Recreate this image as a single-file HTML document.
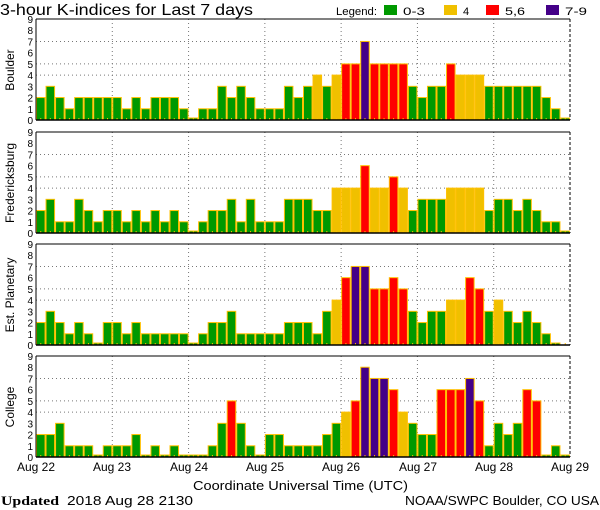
<!DOCTYPE html>
<html><head><meta charset="utf-8"><style>
body{margin:0;background:#fff;width:600px;height:510px;overflow:hidden}
svg{display:block;font-family:"Liberation Sans",sans-serif}
</style></head><body>
<svg id="s" width="600" height="510" xmlns="http://www.w3.org/2000/svg">
<text x="0" y="15" font-size="16" textLength="253" lengthAdjust="spacingAndGlyphs">3-hour K-indices for Last 7 days</text>
<text x="336" y="15" font-size="11" textLength="41" lengthAdjust="spacingAndGlyphs">Legend:</text>
<rect x="384" y="5" width="13" height="10" fill="#009900"/><text x="403" y="15" font-size="11" textLength="22" lengthAdjust="spacingAndGlyphs">0-3</text>
<rect x="444" y="5" width="13" height="10" fill="#f0c000"/><text x="463" y="15" font-size="11">4</text>
<rect x="486" y="5" width="13" height="10" fill="#ff0000"/><text x="505" y="15" font-size="11" textLength="20" lengthAdjust="spacingAndGlyphs">5,6</text>
<rect x="546" y="5" width="13" height="10" fill="#440088"/><text x="565" y="15" font-size="11" textLength="22" lengthAdjust="spacingAndGlyphs">7-9</text>
<g font-size="12" text-anchor="middle">
<text transform="translate(14,70) rotate(-90)">Boulder</text>
<text transform="translate(14,183) rotate(-90)">Fredericksburg</text>
<text transform="translate(14,295) rotate(-90)">Est. Planetary</text>
<text transform="translate(14,407) rotate(-90)">College</text>
</g>
<g font-size="12" text-anchor="middle">
<text x="36" y="471">Aug 22</text><text x="112" y="471">Aug 23</text><text x="189" y="471">Aug 24</text>
<text x="265" y="471">Aug 25</text><text x="341" y="471">Aug 26</text><text x="418" y="471">Aug 27</text>
<text x="494" y="471">Aug 28</text><text x="570" y="471">Aug 29</text>
</g>
<text x="193" y="490" font-size="13" textLength="215" lengthAdjust="spacingAndGlyphs">Coordinate Universal Time (UTC)</text>
<text x="1" y="505" font-size="13" font-family="Liberation Serif" font-weight="bold" textLength="58" lengthAdjust="spacingAndGlyphs">Updated</text>
<text x="67" y="505" font-size="13" textLength="126" lengthAdjust="spacingAndGlyphs">2018 Aug 28 2130</text>
<text x="405" y="505" font-size="13" textLength="194" lengthAdjust="spacingAndGlyphs">NOAA/SWPC Boulder, CO USA</text>
</svg>
<script>
var s=document.getElementById('s'),NS='http://www.w3.org/2000/svg';
function el(n,a){var e=document.createElementNS(NS,n);for(var k in a)e.setAttribute(k,a[k]);s.appendChild(e);return e;}
var data=[
[2,3,2,1,2,2,2,2,2,1,2,1,2,2,2,1,0,1,1,3,2,3,2,1,1,1,3,2, 3,4,3,4,5,5,7,5,5,5,5,3,2,3,3,5,4,4,4,3,3,3,3,3,3,2,1,0],
[2,3,1,1,3,2,1,2,2,1,2,1,2,1,2,1,0,1,2,2,3,1,3,1,1,1,3,3, 3,2,2,4,4,4,6,4,4,5,4,2,3,3,3,4,4,4,4,2,3,3,2,3,2,1,1,0],
[2,3,2,1,2,1,0,2,2,1,2,1,1,1,1,1,0,1,2,2,3,1,1,1,1,1,2,2, 2,1,3,4,6,7,7,5,5,6,5,3,2,3,3,4,4,6,5,3,4,3,2,3,2,1,0,null],
[2,2,3,1,1,1,0,1,1,1,2,0,1,0,1,0,0,0,1,3,5,3,1,0,2,2,1,1, 1,1,2,3,4,5,8,7,7,6,4,3,2,2,6,6,6,7,5,1,3,2,3,6,5,0,1,0]];
var tops=[19,132,244,356],L=36,R=570,bw=(R-L)/56;
function col(v){return v<=3?'#009900':v==4?'#f0c000':v<=6?'#ff0000':'#440088';}
data.forEach(function(d,p){
 var t=tops[p],h=101,b=t+h,u=h/9;
 [4,5,7].forEach(function(k){el('line',{x1:L,x2:R,y1:b-k*u,y2:b-k*u,stroke:'#777','stroke-dasharray':'1,3'});});
 for(var i=1;i<7;i++){var x=L+i*8*bw;el('line',{x1:x,x2:x,y1:t,y2:b,stroke:'#777','stroke-dasharray':'1,3'});}
 d.forEach(function(v,i){if(v===null)return;var hh=v==0?2:v*u;
  el('rect',{x:L+i*bw+0.5,y:b-hh,width:bw-1,height:hh,fill:col(v),stroke:'#ffc000','stroke-width':1});});
 for(var i=0;i<56;i++){el('line',{x1:L+i*bw+bw/2,x2:L+i*bw+bw/2,y1:b-2,y2:b,stroke:'#ffc000'});}
 el('line',{x1:L,x2:R,y1:t,y2:t,stroke:'#000','stroke-width':1});
 el('line',{x1:L,x2:R,y1:b,y2:b,stroke:'#000','stroke-width':1.5});
 el('line',{x1:L,x2:L,y1:t,y2:b,stroke:'#000','stroke-width':1});
 el('line',{x1:R,x2:R,y1:t,y2:b,stroke:'#000','stroke-width':1,'stroke-dasharray':'3,2'});
 for(var k=0;k<=9;k++){var tx=el('text',{x:33,y:b-k*u+4,'font-size':10,'text-anchor':'end'});tx.textContent=k;}
});
</script>
</body></html>
